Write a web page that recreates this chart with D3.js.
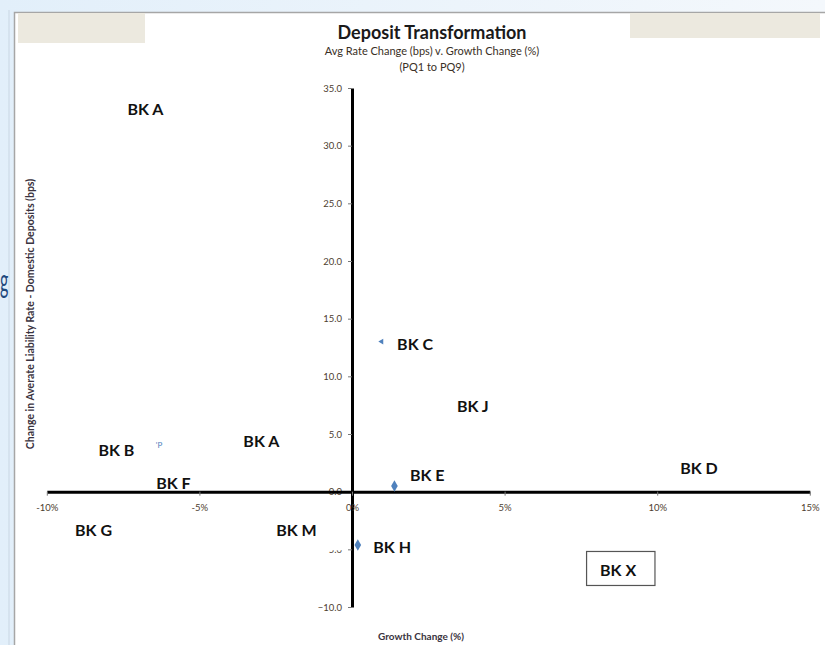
<!DOCTYPE html>
<html>
<head>
<meta charset="utf-8">
<script src="https://cdn.jsdelivr.net/npm/d3@7"></script>
<style>
  body { margin: 0; background: #eaf3fb; }
  svg { display: block; }
  text { font-family: Lato, "Open Sans", sans-serif; }
</style>
</head>
<body>
<div id="chart"></div>
<script>
// data
const banks   = ["BK A", "BK B", "BK A", "BK F", "BK G", "BK M", "BK H", "BK E", "BK C", "BK J", "BK D", "BK X"];
const growth  = [-6.77, -7.72, -2.97, -5.85, -8.47, -1.82, 0.19, 1.39, 0.97, 3.96, 11.37, 8.72];
const rateChg = [33.26, 3.66, 4.44, 0.80, -3.28, -3.28, -4.62, 0.49, 13.01, 7.48, 2.06, -6.79];
const marker  = [null, null, null, null, null, null, "diamond", "diamond", "triangle", null, null, null];
const boxed   = ["BK X"];

const xTicks = [-10, -5, 0, 5, 10, 15];
const yTicks = [-10, -5, 0, 5, 10, 15, 20, 25, 30, 35];

const width = 825, height = 645;
const blue = "#4f81bd";
const tickColor = "#4d4030";

const svg = d3.select("#chart").append("svg")
  .attr("width", width)
  .attr("height", height);

// slide background
const defs = svg.append("defs");
const grad = defs.append("linearGradient").attr("id", "bg").attr("x1", 0).attr("x2", 1).attr("y1", 0).attr("y2", 0);
grad.append("stop").attr("offset", 0).attr("stop-color", "#e2effa");
grad.append("stop").attr("offset", 1).attr("stop-color", "#f4f8fc");
svg.append("rect").attr("width", width).attr("height", height).attr("fill", "url(#bg)");

svg.append("line").attr("x1", 9).attr("x2", 9).attr("y1", 10).attr("y2", height)
  .attr("stroke", "#c9d6e3").attr("stroke-width", 1);
// tail of the slide heading peeking out on the left
svg.append("text").attr("transform", "translate(0,292) scale(0.5,1)")
  .attr("font-family", "DejaVu Sans, sans-serif")
  .attr("font-size", 32).attr("fill", "#1f497d").text("g");

// chart panel
svg.append("rect").attr("x", 14).attr("y", 12).attr("width", width - 14).attr("height", height - 12)
  .attr("fill", "#fff");
svg.append("path").attr("d", `M14.5,${height}V12.5H${width}`)
  .attr("fill", "none").attr("stroke", "#a6a6a6").attr("stroke-width", 1.5);

// beige placeholder boxes
svg.append("rect").attr("x", 18).attr("y", 13).attr("width", 127).attr("height", 30).attr("fill", "#ece9df");
svg.append("rect").attr("x", 630).attr("y", 13).attr("width", 190).attr("height", 25).attr("fill", "#ece9df");

// titles
const titleX = 432;
svg.append("text").attr("x", titleX).attr("y", 39).attr("text-anchor", "middle")
  .attr("font-size", 18).attr("font-weight", 700).attr("fill", "#1a1a1a").text("Deposit Transformation");
svg.append("text").attr("x", titleX).attr("y", 55).attr("text-anchor", "middle")
  .attr("font-size", 11).attr("fill", "#3a3026").text("Avg Rate Change (bps) v. Growth Change (%)");
svg.append("text").attr("x", titleX).attr("y", 71).attr("text-anchor", "middle")
  .attr("font-size", 11).attr("fill", "#3a3026").text("(PQ1 to PQ9)");

// scales
const x = d3.scaleLinear().domain([-10, 15]).range([46.8, 809.8]);
const y = d3.scaleLinear().domain([-10, 35]).range([607, 88]);

// y axis through x = 0
const yAxis = svg.append("g")
  .attr("transform", `translate(${x(0)},0)`)
  .call(d3.axisLeft(y).tickValues(yTicks).tickFormat(d3.format(".1f")).tickSizeInner(4).tickSizeOuter(0).tickPadding(6));
yAxis.select(".domain").attr("stroke", "#000").attr("stroke-width", 3);
yAxis.selectAll(".tick line").attr("stroke", "#777");
yAxis.selectAll(".tick text").attr("font-size", 9.5).attr("fill", tickColor).attr("font-family", "Lato, sans-serif");

// -5.0 label is mostly hidden behind a label background in the original
svg.append("rect").attr("x", 316).attr("y", y(-5) - 8).attr("width", 27).attr("height", 9).attr("fill", "#fff");

// x axis through y = 0
const xAxis = svg.append("g")
  .attr("transform", `translate(0,${y(0)})`)
  .call(d3.axisBottom(x).tickValues(xTicks).tickFormat(d => d + "%").tickSizeInner(4).tickSizeOuter(0).tickPadding(9));
xAxis.select(".domain").attr("stroke", "#000").attr("stroke-width", 3);
xAxis.selectAll(".tick line").attr("stroke", "#777");
xAxis.selectAll(".tick text").attr("font-size", 9.5).attr("fill", tickColor).attr("font-family", "Lato, sans-serif");

// axis titles
svg.append("text")
  .attr("transform", "translate(34,314) rotate(-90)")
  .attr("text-anchor", "middle")
  .attr("font-size", 10.5).attr("font-weight", 700).attr("fill", "#3a3340")
  .text("Change in Averate Liability Rate - Domestic Deposits (bps)");
svg.append("text").attr("x", 421).attr("y", 640).attr("text-anchor", "middle")
  .attr("font-size", 10).attr("font-weight", 700).attr("fill", "#3a3340").text("Growth Change (%)");

// points
const pts = banks.map((b, i) => ({ bank: b, gx: growth[i], ry: rateChg[i], marker: marker[i] }));

const gMarks = svg.append("g");
gMarks.selectAll("path").data(pts.filter(d => d.marker))
  .join("path")
  .attr("transform", d => `translate(${x(d.gx)},${y(d.ry)})` + (d.marker === "triangle" ? " rotate(-90)" : ""))
  .attr("d", d => d.marker === "diamond"
    ? d3.symbol(d3.symbolDiamond, 38)()
    : d3.symbol(d3.symbolTriangle, 14)())
  .attr("fill", blue);

// stray fragment of a hidden label
svg.append("text").attr("x", 159).attr("y", 448).attr("text-anchor", "middle")
  .attr("font-size", 8).attr("fill", blue).text("'P");

// data labels: centred on the point, or to the right when a marker shows
const nudge = { "BK E": -12 };
const gLabels = svg.append("g");
pts.forEach(d => {
  const px = x(d.gx), py = y(d.ry);
  const t = gLabels.append("text")
    .attr("font-size", 16).attr("font-weight", 700).attr("fill", "#111")
    .attr("dominant-baseline", "central")
    .text(d.bank);
  if (d.marker) {
    t.attr("x", px + 15.5).attr("y", py + (nudge[d.bank] !== undefined ? nudge[d.bank] : 2));
  } else {
    t.attr("x", px).attr("y", py).attr("text-anchor", "middle");
  }
  if (boxed.includes(d.bank)) {
    const bb = t.node().getBBox();
    gLabels.insert("rect", "text")
      .attr("x", bb.x - 13.5).attr("y", py - 18.5)
      .attr("width", bb.width + 32).attr("height", 34)
      .attr("fill", "#fff").attr("stroke", "#555").attr("stroke-width", 1.2);
  }
});
</script>
</body>
</html>
